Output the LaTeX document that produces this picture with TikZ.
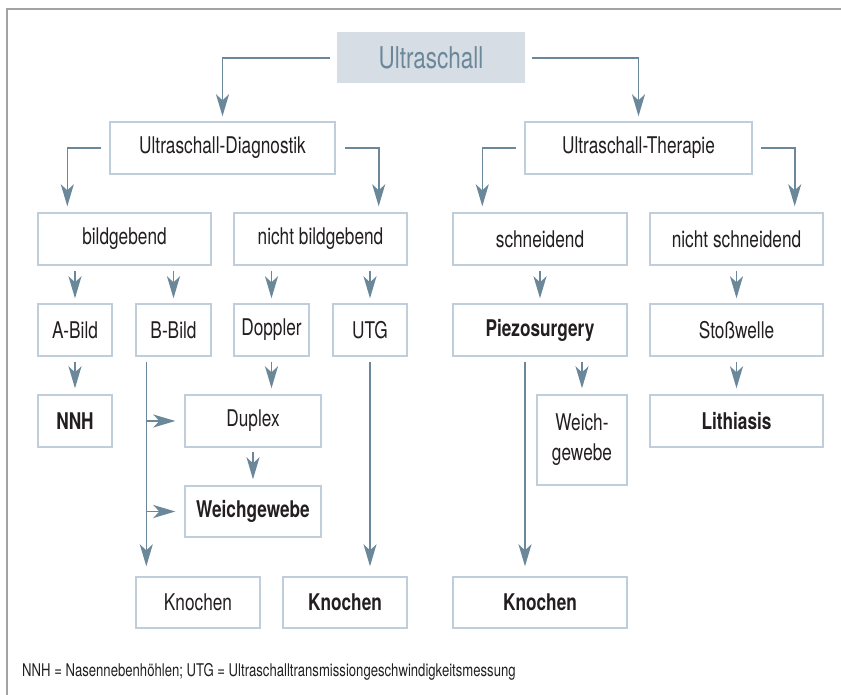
\documentclass[tikz,border=0pt]{standalone}
\usepackage{fontspec}
\setmainfont[FakeStretch=0.75]{TeX Gyre Heros}
\usetikzlibrary{arrows.meta}
\definecolor{linec}{HTML}{6B889B}
\definecolor{boxc}{HTML}{BFCEDA}
\definecolor{topfill}{HTML}{D6DDE4}
\definecolor{topt}{HTML}{6D879A}
\definecolor{txt}{HTML}{231F20}
\definecolor{framec}{HTML}{A3A3A3}
\begin{document}
\begin{tikzpicture}[x=1pt,y=-1pt,
  box/.style={draw=boxc,line width=1.4pt,fill=white,inner sep=0pt,align=center,text=txt,font=\fontsize{23}{30}\selectfont},
  bbox/.style={box,font=\fontsize{23}{30}\selectfont\bfseries},
  con/.style={draw=linec,line width=1.6pt,-{Stealth[length=22pt,width=13pt,inset=6pt]}}]
\useasboundingbox (0,0) rectangle (841,695);
\draw[framec,line width=1.5pt] (7,695) -- (7,9) -- (841,9);

% level 0
\node[box,draw=none,fill=topfill,text=topt,font=\fontsize{30}{34}\selectfont,minimum width=188pt,minimum height=51pt] (U) at (431,57.5) {Ultraschall};
% level 1
\node[box,minimum width=225pt,minimum height=52pt] (D) at (222.5,148) {Ultraschall-Diagnostik};
\node[box,minimum width=227pt,minimum height=52pt] (T) at (638.5,148) {Ultraschall-Therapie};
% level 2
\node[box,minimum width=173pt,minimum height=52pt] (bild) at (124.5,239) {bildgebend};
\node[box,minimum width=173pt,minimum height=52pt] (nbild) at (320.5,239) {nicht bildgebend};
\node[box,minimum width=174pt,minimum height=52pt] (schn) at (540,239) {schneidend};
\node[box,minimum width=173pt,minimum height=52pt] (nschn) at (736.5,239) {nicht schneidend};
% level 3
\node[box,minimum width=74pt,minimum height=52pt] (A) at (75,330) {A-Bild};
\node[box,minimum width=75pt,minimum height=52pt] (B) at (173.5,330) {B-Bild};
\node[box,minimum width=75pt,minimum height=52pt] (Dop) at (271.5,330) {Doppler};
\node[box,minimum width=74pt,minimum height=52pt] (UTG) at (370,330) {UTG};
\node[bbox,minimum width=174pt,minimum height=52pt] (Piezo) at (540,330) {Piezosurgery};
\node[box,minimum width=173pt,minimum height=52pt] (Stoss) at (736.5,330) {Stoßwelle};
% level 4
\node[bbox,minimum width=74pt,minimum height=52pt] (NNH) at (75,421) {NNH};
\node[box,minimum width=136pt,minimum height=52pt] (Dup) at (253,421) {Duplex};
\node[bbox,minimum width=136pt,minimum height=51pt] (WG) at (253,511.5) {Weichgewebe};
\node[box,minimum width=90pt,minimum height=90pt] (WG2) at (582,440) {Weich-\\gewebe};
\node[bbox,minimum width=173pt,minimum height=52pt] (Lith) at (736.5,421) {Lithiasis};
% level 5
\node[box,minimum width=124pt,minimum height=51pt] (K1) at (198,602.5) {Knochen};
\node[bbox,minimum width=124pt,minimum height=51pt] (K2) at (345,602.5) {Knochen};
\node[bbox,minimum width=174pt,minimum height=51pt] (K3) at (540,602.5) {Knochen};

% connectors level 0 -> 1
\draw[con] ([xshift=-6pt]U.west |- 0,58) -| ([yshift=5pt]D.north);
\draw[con] ([xshift=6pt]U.east |- 0,58) -| ([yshift=5pt]T.north);
% level 1 -> 2
\draw[con] ([xshift=-8pt]D.west) -| ([xshift=30pt,yshift=6pt]bild.north west);
\draw[con] ([xshift=9pt]D.east) -| ([xshift=-29pt,yshift=6pt]nbild.north east);
\draw[con] ([xshift=-8pt]T.west) -| ([xshift=30pt,yshift=6pt]schn.north west);
\draw[con] ([xshift=8pt]T.east) -| ([xshift=-29pt,yshift=6pt]nschn.north east);
% level 2 -> 3
\foreach \n/\p in {A/bild,B/bild,Dop/nbild,UTG/nbild,Piezo/schn,Stoss/nschn}
  \draw[con] ([yshift=-5pt]\n.north |- \p.south) -- ([yshift=5pt]\n.north);
% level 3 -> 4
\draw[con] ([yshift=-5pt]A.south) -- ([yshift=6pt]NNH.north);
\draw[con] ([yshift=-5pt]Dop.south) -- ([yshift=6pt]Dop.south |- Dup.north);
\draw[con] ([yshift=-4pt]Dup.south) -- ([yshift=6pt]WG.north);
\draw[con] ([yshift=-5pt]WG2.north |- Piezo.south) -- ([yshift=6pt]WG2.north);
\draw[con] ([yshift=-5pt]Stoss.south) -- ([yshift=6pt]Lith.north);
% long lines
\coordinate (Bs) at ([xshift=11pt,yshift=-5pt]B.south west);
\draw[con] (Bs) -- ([yshift=10pt]Bs |- K1.north);
\draw[con] (Bs |- Dup.west) -- ([xshift=-9pt]Dup.west);
\draw[con] (Bs |- WG.west) -- ([xshift=-9pt]WG.west);
\draw[con] ([yshift=-5pt]UTG.south) -- ([yshift=10pt]UTG.south |- K2.north);
\coordinate (Ps) at ([xshift=-15pt,yshift=-5pt]Piezo.south);
\draw[con] (Ps) -- ([yshift=10pt]Ps |- K3.north);

\node[anchor=base west,inner sep=0pt,text=txt,font=\fontsize{17.5}{20}\selectfont] (fn) at (22,676) {NNH = Nasennebenhöhlen; UTG = Ultraschalltransmissiongeschwindigkeitsmessung};
\end{tikzpicture}
\end{document}
